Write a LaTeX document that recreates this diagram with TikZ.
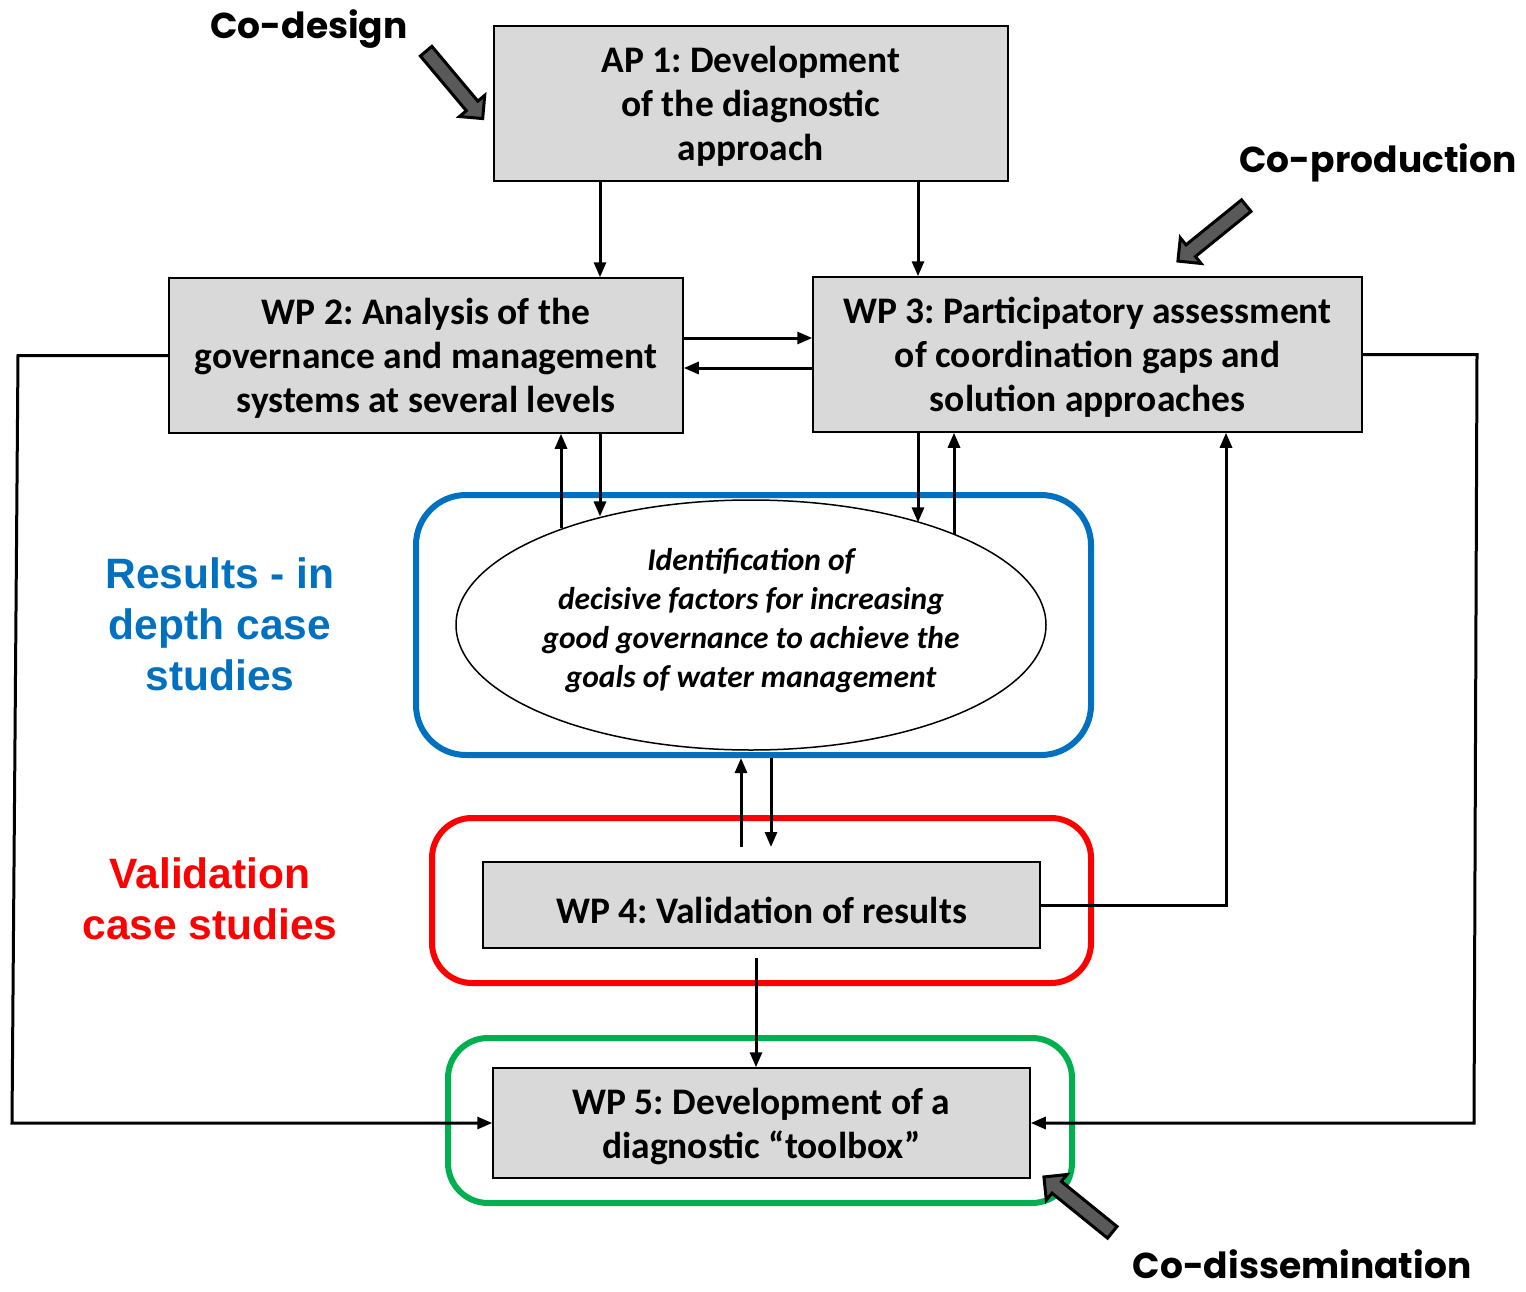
\documentclass[tikz,border=0pt]{standalone}
\usepackage{fontspec}
\setmainfont{Carlito}
\newfontfamily\arialf{Liberation Sans}
\newfontfamily\comicf{Poppins}
\usetikzlibrary{shapes.geometric,shapes.arrows,arrows.meta}
\definecolor{boxgray}{HTML}{D9D9D9}
\definecolor{fatgray}{HTML}{595959}
\definecolor{bluec}{HTML}{0070C0}
\definecolor{redc}{HTML}{FF0000}
\definecolor{greenc}{HTML}{00B050}
\frenchspacing
\newcommand{\boxtext}[2]{\raisebox{#1}[0pt][0pt]{\begin{tabular}{@{}c@{}}#2\end{tabular}}}
\tikzset{
  wpbox/.style={draw=black, line width=1.5pt, fill=boxgray, inner sep=0pt, align=center,
    font=\fontsize{37.5}{44}\selectfont\bfseries},
  arr/.style={line width=3pt, -{Triangle[length=15pt,width=12pt]}},
  frame/.style={line width=6pt, inner sep=0pt},
  fat/.style={single arrow, draw=black, line width=3pt, fill=fatgray, inner sep=6pt,
    single arrow head extend=9pt, minimum height=88pt},
  cotext/.style={font=\comicf\fontsize{36}{42}\selectfont\bfseries, inner sep=0pt},
  sidetext/.style={font=\arialf\fontsize{42.5}{51}\selectfont\bfseries, align=center, inner sep=0pt}
}
\begin{document}
\begin{tikzpicture}[x=1pt,y=-1pt]
\useasboundingbox (0,0) rectangle (1526,1292);
\fill[white] (0,0) rectangle (1526,1292);

% frames
\node[frame, draw=bluec, rounded corners=50pt, minimum width=675pt, minimum height=260pt] (blue) at (753.5,625) {};
\node[frame, draw=redc, rounded corners=40pt, minimum width=659pt, minimum height=165pt] (red) at (761.5,900.5) {};
\node[frame, draw=greenc, rounded corners=40pt, minimum width=624pt, minimum height=165pt] (green) at (760,1120.5) {};

% boxes
\node[wpbox, minimum width=514pt, minimum height=155pt] (ap1) at (751,103.5) {\boxtext{-10pt}{AP 1: Development\\of the diagnostic\\approach}};
\node[wpbox, minimum width=514pt, minimum height=155pt] (wp2) at (426,355.5) {\boxtext{-10pt}{WP 2: Analysis of the\\governance and management\\systems at several levels}};
\node[wpbox, minimum width=549pt, minimum height=155pt] (wp3) at (1087.5,354.5) {\boxtext{-10pt}{WP 3: Participatory assessment\\of coordination gaps and\\solution approaches}};
\node[wpbox, minimum width=557pt, minimum height=86pt] (wp4) at (761.5,905) {\boxtext{-16pt}{WP 4: Validation of results}};
\node[wpbox, minimum width=537pt, minimum height=110pt] (wp5) at (761.5,1123) {\boxtext{-11pt}{WP 5: Development of a\\diagnostic “toolbox”}};

% ellipse
\node[ellipse, draw=black, line width=1.5pt, fill=white, minimum width=590pt, minimum height=250pt, inner sep=0pt] (ell) at (751,625) {};
\node[align=center, inner sep=0pt, font=\fontsize{31.5}{39}\selectfont\bfseries\itshape] (elltxt) at (751,620.5)
  {Identification of\\decisive factors for increasing\\good governance to achieve the\\goals of water management};

% side texts
\node[sidetext, text=bluec] (restxt) at (220,624) {Results - in\\depth case\\studies};
\node[sidetext, text=redc] (valtxt) at (210,899) {Validation\\case studies};

% co- labels
\node[cotext] (codes) at (309,29) {Co-design};
\node[cotext] (coprod) at (1378,163) {Co-production};
\node[cotext] (codis) at (1302,1264) {Co-dissemination};

% fat arrows
\node[fat, rotate=-50] (fa1) at (452,82) {};
\node[fat, rotate=-141] (fa2) at (1215,231) {};
\node[fat, rotate=141] (fa3) at (1081,1207) {};

% ellipse border points
\path (ell.153.3) coordinate (e1) (ell.144.6) coordinate (e2) (ell.31.7) coordinate (e3) (ell.24.1) coordinate (e4);

% connectors
\draw[arr] (ap1.south -| 600,0) -- (wp2.north -| 600,0);
\draw[arr] (ap1.south -| 918,0) -- (wp3.north -| 918,0);
\draw[arr] (wp2.east |- 0,338) -- (wp3.west |- 0,338);
\draw[arr] (wp3.west |- 0,368) -- (wp2.east |- 0,368);

\draw[arr] (e1 -| 561,0) -- (wp2.south -| 561,0);
\draw[arr] (wp2.south -| 600,0) -- (e2 -| 600,0);
\draw[arr] (wp3.south -| 918,0) -- (e3 -| 918,0);
\draw[arr] (e4 -| 954,0) -- (wp3.south -| 954,0);

\coordinate (upstart) at (741,847);
\coordinate (downend) at (771,847);
\draw[arr] (upstart) -- (blue.south -| 741,0);
\draw[arr] (blue.south -| 771,0) -- (downend);

\draw[arr] (wp4.east) -| (wp3.south -| 1226,0);
\coordinate (w4start) at (756,958);
\draw[arr] (w4start) -- (wp5.north -| 756,0);

\draw[arr] (wp2.west) -- (wp2.west -| 18,0) -- (12,1123) -- (wp5.west);
\draw[arr] (wp3.east) -- (wp3.east -| 1477,0) -- (1474,1123) -- (wp5.east);
\end{tikzpicture}
\end{document}
